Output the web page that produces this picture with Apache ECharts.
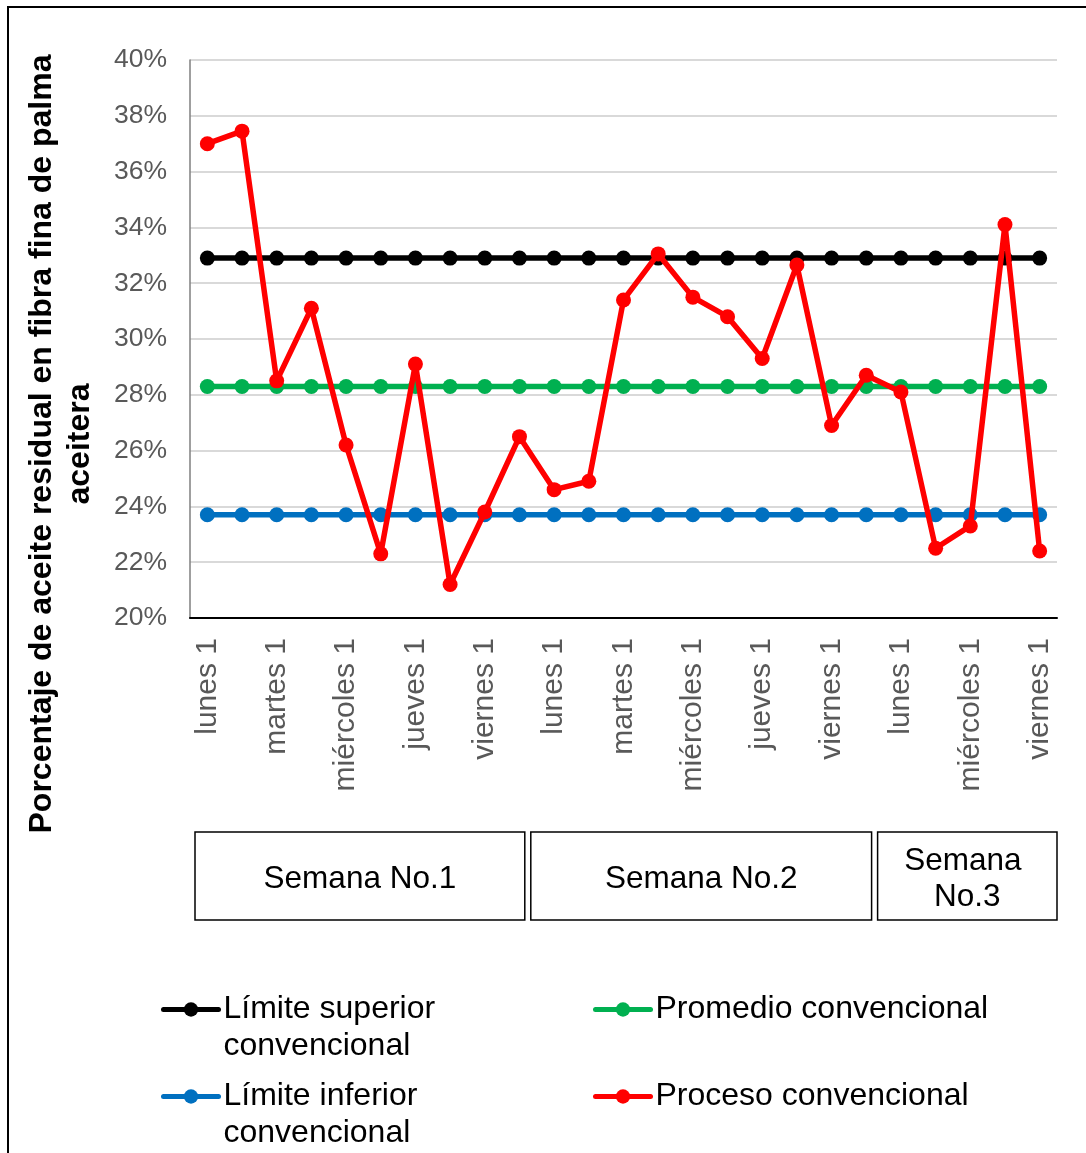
<!DOCTYPE html>
<html>
<head>
<meta charset="utf-8">
<script src="https://cdn.jsdelivr.net/npm/echarts@6/dist/echarts.min.js"></script>
<style>
  html, body { margin: 0; padding: 0; background: #ffffff; }
  #chart { width: 1086px; height: 1153px; }
</style>
</head>
<body>
<div id="chart"></div>
<script>
// Muestras diarias (dos por día en las semanas 1 y 2, una por día en la semana 3)
const categories = [
  'lunes 1', 'lunes 2', 'martes 1', 'martes 2', 'miércoles 1', 'miércoles 2', 'jueves 1', 'jueves 2', 'viernes 1', 'viernes 2',
  'lunes 1', 'lunes 2', 'martes 1', 'martes 2', 'miércoles 1', 'miércoles 2', 'jueves 1', 'jueves 2', 'viernes 1', 'viernes 2',
  'lunes 1', 'martes 1', 'miércoles 1', 'jueves 1', 'viernes 1'
];

const weekNames = ['Semana No.1', 'Semana No.2', 'Semana No.3'];
const weekSizes = [10, 10, 5];

// Porcentaje de aceite residual (%)
const limiteSuperior = [32.9, 32.9, 32.9, 32.9, 32.9, 32.9, 32.9, 32.9, 32.9, 32.9, 32.9, 32.9, 32.9, 32.9, 32.9, 32.9, 32.9, 32.9, 32.9, 32.9, 32.9, 32.9, 32.9, 32.9, 32.9];
const promedio = [28.3, 28.3, 28.3, 28.3, 28.3, 28.3, 28.3, 28.3, 28.3, 28.3, 28.3, 28.3, 28.3, 28.3, 28.3, 28.3, 28.3, 28.3, 28.3, 28.3, 28.3, 28.3, 28.3, 28.3, 28.3];
const limiteInferior = [23.7, 23.7, 23.7, 23.7, 23.7, 23.7, 23.7, 23.7, 23.7, 23.7, 23.7, 23.7, 23.7, 23.7, 23.7, 23.7, 23.7, 23.7, 23.7, 23.7, 23.7, 23.7, 23.7, 23.7, 23.7];
const proceso = [37.0, 37.45, 28.5, 31.1, 26.2, 22.3, 29.1, 21.2, 23.8, 26.5,
                 24.6, 24.9, 31.4, 33.05, 31.5, 30.8, 29.3, 32.65, 26.9, 28.7,
                 28.1, 22.5, 23.3, 34.1, 22.4];

const yTicks = { min: 20, max: 40, step: 2 };

const seriesNames = {
  sup: 'Límite superior convencional',
  prom: 'Promedio convencional',
  inf: 'Límite inferior convencional',
  proc: 'Proceso convencional'
};
// Texto de leyenda; la línea vacía inicial deja el icono a la altura de la primera línea
const legendText = {
  'Límite superior convencional': ' \nLímite superior\nconvencional',
  'Promedio convencional': 'Promedio convencional',
  'Límite inferior convencional': ' \nLímite inferior\nconvencional',
  'Proceso convencional': 'Proceso convencional'
};

const FONT = '"Liberation Sans", Arial, sans-serif';
const LINE_H = 37;

function lineSeries(name, data, color, z) {
  return {
    name: name,
    type: 'line',
    data: data,
    z: z,
    symbol: 'circle',
    symbolSize: 15,
    itemStyle: { color: color },
    lineStyle: { color: color, width: 5.5 },
    emphasis: { disabled: true },
    animation: false
  };
}

function legendBox(name, left, top) {
  return {
    data: [name],
    left: left,
    top: top,
    orient: 'horizontal',
    itemWidth: 55,
    itemHeight: 18,
    itemGap: 0,
    selectedMode: false,
    lineStyle: { width: 5, cap: 'round' },
    formatter: function (n) { return legendText[n]; },
    textStyle: {
      fontFamily: FONT,
      fontSize: 32,
      color: '#000000',
      lineHeight: LINE_H
    }
  };
}

const chart = echarts.init(document.getElementById('chart'), null, { renderer: 'canvas' });

chart.setOption({
  backgroundColor: '#ffffff',
  animation: false,
  grid: { left: 190, right: 29, top: 60, bottom: 535, containLabel: false },
  xAxis: {
    type: 'category',
    data: categories,
    boundaryGap: true,
    axisLine: { show: true, lineStyle: { color: '#000000', width: 2 } },
    axisTick: { show: false },
    axisLabel: {
      interval: 1,
      rotate: 90,
      margin: 20,
      color: '#595959',
      fontFamily: FONT,
      fontSize: 30
    },
    splitLine: { show: false }
  },
  yAxis: {
    type: 'value',
    min: yTicks.min,
    max: yTicks.max,
    interval: yTicks.step,
    axisLine: { show: true, lineStyle: { color: '#7f7f7f', width: 1.5 } },
    axisTick: { show: false },
    axisLabel: {
      formatter: '{value}%',
      margin: 23,
      color: '#595959',
      fontFamily: FONT,
      fontSize: 26.5
    },
    splitLine: { show: true, lineStyle: { color: '#d9d9d9', width: 2 } }
  },
  legend: [
    legendBox(seriesNames.sup, 156, 949),
    legendBox(seriesNames.prom, 588, 986),
    legendBox(seriesNames.inf, 156, 1036),
    legendBox(seriesNames.proc, 588, 1073)
  ],
  series: [
    lineSeries(seriesNames.sup, limiteSuperior, '#000000', 2),
    lineSeries(seriesNames.prom, promedio, '#00b050', 3),
    lineSeries(seriesNames.inf, limiteInferior, '#0070c0', 4),
    lineSeries(seriesNames.proc, proceso, '#ff0000', 5)
  ]
});

// Cajas de agrupación por semana debajo del eje de categorías
const c0 = chart.convertToPixel({ xAxisIndex: 0 }, 0);
const c1 = chart.convertToPixel({ xAxisIndex: 0 }, 1);
const band = c1 - c0;
function edge(i) { return c0 + (i - 0.5) * band; }

const BOX_TOP = 832;
const BOX_H = 88;
const BOX_GAP = 6;
const BOX_SHIFT = -9;
const graphics = [];

// Marco exterior del gráfico
graphics.push({
  type: 'rect',
  silent: true,
  z: 0,
  shape: { x: 8, y: 7, width: 1100, height: 1170 },
  style: { fill: 'none', stroke: '#000000', lineWidth: 2 }
});

// Título del eje vertical
graphics.push({
  type: 'text',
  silent: true,
  x: 61,
  y: 444,
  rotation: Math.PI / 2,
  style: {
    text: 'Porcentaje de aceite residual en fibra fina de palma\naceitera',
    fontFamily: FONT,
    fontWeight: 'bold',
    fontSize: 32,
    lineHeight: 38,
    fill: '#000000',
    align: 'center',
    verticalAlign: 'middle'
  }
});

let start = 0;
weekSizes.forEach(function (n, k) {
  const end = start + n;
  const left = edge(start) + (start === 0 ? 5 : BOX_SHIFT + BOX_GAP / 2);
  const right = edge(end) + (end === categories.length ? 0 : BOX_SHIFT - BOX_GAP / 2);
  graphics.push({
    type: 'rect',
    silent: true,
    shape: { x: left, y: BOX_TOP, width: right - left, height: BOX_H },
    style: { fill: '#ffffff', stroke: '#000000', lineWidth: 1.5 }
  });
  graphics.push({
    type: 'text',
    silent: true,
    x: (left + right) / 2,
    y: BOX_TOP + BOX_H / 2 + 3,
    style: {
      text: weekNames[k],
      width: right - left - 10,
      overflow: 'break',
      fontFamily: FONT,
      fontSize: 31.5,
      lineHeight: 36,
      fill: '#000000',
      align: 'center',
      verticalAlign: 'middle'
    }
  });
  start = end;
});

chart.setOption({ graphic: graphics });
</script>
</body>
</html>
